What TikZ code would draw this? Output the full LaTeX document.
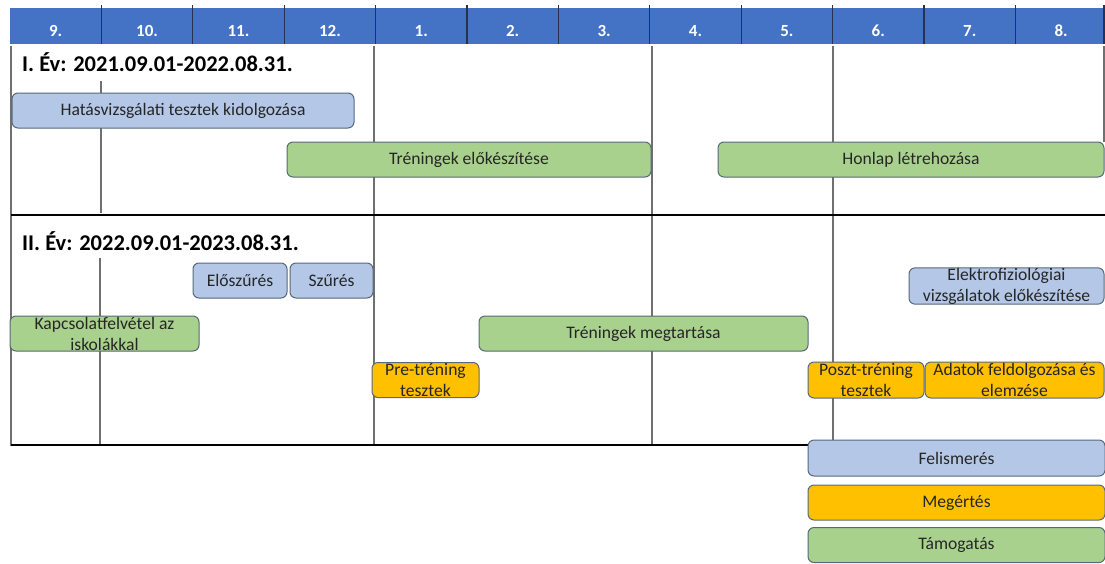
\documentclass[tikz,border=0pt]{standalone}
\usepackage{fontspec}
\setmainfont{Carlito}

\definecolor{headblue}{HTML}{4472C4}
\definecolor{headsep}{HTML}{26324F}
\definecolor{barblue}{HTML}{B4C7E7}
\definecolor{bargreen}{HTML}{A9D18E}
\definecolor{barorange}{HTML}{FFC000}
\definecolor{barline}{HTML}{56687A}
\definecolor{gridgray}{HTML}{707070}

\begin{document}
\begin{tikzpicture}[x=1pt,y=-1pt,
    month/.style={text=white,font=\fontsize{17}{19}\bfseries\selectfont},
    yeartitle/.style={anchor=west,inner sep=0pt,font=\fontsize{22.5}{26}\bfseries\selectfont},
    grid/.style={draw=gridgray,line width=1.1pt},
    yearline/.style={draw=black,line width=2.6pt},
    bar/.style={draw=barline,line width=1pt,rounded corners=6pt,inner sep=0pt,
        minimum height=35pt,align=center,text=black!85,
        font=\fontsize{17.6}{21}\selectfont},
    bluebar/.style={bar,fill=barblue},
    greenbar/.style={bar,fill=bargreen},
    orangebar/.style={bar,fill=barorange}]
\useasboundingbox (0,0) rectangle (1105,563);

% header with months
\fill[headblue] (10,8) rectangle (1105,44);
\draw[headsep,line width=1.2pt] (101.4,5) -- (101.4,44);
\draw[headsep,line width=1.2pt] (192.8,5) -- (192.8,44);
\draw[headsep,line width=1.2pt] (284.2,5) -- (284.2,44);
\draw[headsep,line width=1.2pt] (375.6,5) -- (375.6,44);
\draw[headsep,line width=1.2pt] (467,5) -- (467,44);
\draw[headsep,line width=1.2pt] (558.4,5) -- (558.4,44);
\draw[headsep,line width=1.2pt] (649.8,5) -- (649.8,44);
\draw[headsep,line width=1.2pt] (741.2,5) -- (741.2,44);
\draw[headsep,line width=1.2pt] (832.6,5) -- (832.6,44);
\draw[headsep,line width=1.2pt] (924,5) -- (924,44);
\draw[headsep,line width=1.2pt] (1015.4,5) -- (1015.4,44);
\draw[headsep,line width=1.2pt] (1104,5) -- (1104,44);
\node[month] (m9) at (55.7,31) {9.};
\node[month] (m10) at (147.1,31) {10.};
\node[month] (m11) at (238.5,31) {11.};
\node[month] (m12) at (329.9,31) {12.};
\node[month] (m1) at (421.3,31) {1.};
\node[month] (m2) at (512.7,31) {2.};
\node[month] (m3) at (604.1,31) {3.};
\node[month] (m4) at (695.5,31) {4.};
\node[month] (m5) at (786.9,31) {5.};
\node[month] (m6) at (878.3,31) {6.};
\node[month] (m7) at (969.7,31) {7.};
\node[month] (m8) at (1061.1,31) {8.};

% grid lines
\draw[grid] (11,46) -- (11,446);
\draw[grid] (101,81) -- (101,213);
\draw[grid] (100,258) -- (100,446);
\draw[grid] (374,46) -- (374,446);
\draw[grid] (652,46) -- (652,446);
\draw[grid] (833,46) -- (833,440);
\draw[grid] (1104,46) -- (1104,142);
\draw[yearline] (11,215) -- (1105,215);
\draw[yearline] (11,445) -- (808,445);

% years
\node[yeartitle] (ev1) at (22,62) {I. Év: 2021.09.01-2022.08.31.};
\node[yeartitle] (ev2) at (22,241) {II. Év: 2022.09.01-2023.08.31.};

% first year
\node[bluebar,minimum width=342pt] (hatas) at (183,110.5) {Hatásvizsgálati tesztek kidolgozása};
\node[greenbar,minimum width=364pt] (trenelo) at (469,159.5) {Tréningek előkészítése};
\node[greenbar,minimum width=386pt] (honlap) at (911,159.5) {Honlap létrehozása};

% second year
\node[bluebar,minimum width=94pt] (eloszur) at (240,280.5) {Előszűrés};
\node[bluebar,minimum width=83pt] (szur) at (331.5,280.5) {Szűrés};
\node[bluebar,minimum width=195pt,minimum height=36pt] (elektro) at (1006.5,286) {Elektrofiziológiai\\vizsgálatok előkészítése};
\node[greenbar,minimum width=189pt] (kapcs) at (104.5,333.5) {Kapcsolatfelvétel az\\iskolákkal};
\node[greenbar,minimum width=329pt] (trenmeg) at (643.5,333.5) {Tréningek megtartása};
\node[orangebar,minimum width=107pt] (pre) at (425.5,380) {Pre-tréning\\tesztek};
\node[orangebar,minimum width=116pt,minimum height=36pt] (poszt) at (866,380) {Poszt-tréning\\tesztek};
\node[orangebar,minimum width=179pt,minimum height=36pt] (adatok) at (1014.5,380) {Adatok feldolgozása és\\elemzése};

% levels
\node[bluebar,minimum width=297pt,minimum height=36pt] (felism) at (956.5,458) {Felismerés};
\node[orangebar,minimum width=297pt] (megert) at (956.5,502.5) {Megértés};
\node[greenbar,minimum width=297pt] (tamog) at (956.5,545) {Támogatás};
\end{tikzpicture}
\end{document}
